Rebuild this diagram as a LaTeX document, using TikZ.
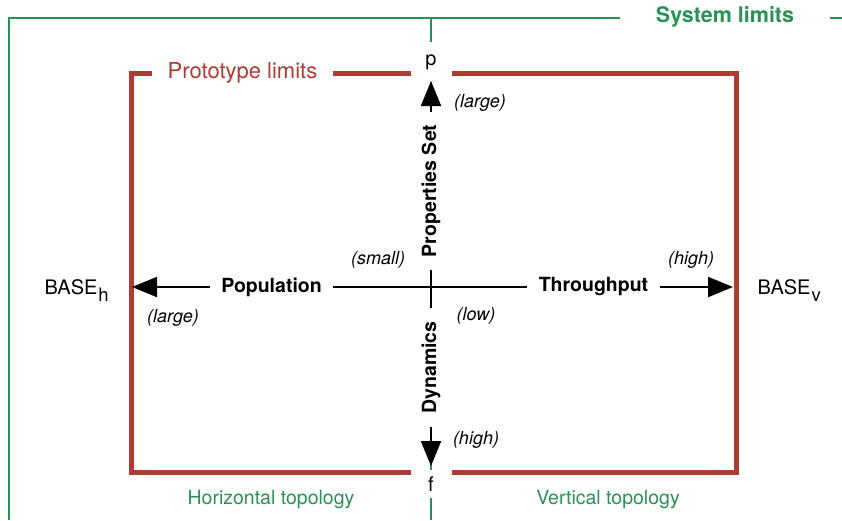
\documentclass[tikz,border=0pt]{standalone}
\usepackage{fontspec}
\setmainfont{TeX Gyre Heros}
\usetikzlibrary{arrows.meta}
\definecolor{syscol}{RGB}{42,145,84}
\definecolor{protocol}{RGB}{176,58,52}

\begin{document}
\begin{tikzpicture}[
            x=1pt,
            y=-1pt,
            syslim/.style={draw=syscol,line width=2pt},
            protolim/.style={draw=protocol,line width=5pt},
            axis/.style={draw=black,line width=2pt},
            tip/.style={-{Triangle[length=25pt,width=20pt]}},
            cover/.style={fill=white,inner sep=0pt},
            axlab/.style={cover,font=\fontsize{19.5}{22}\selectfont\bfseries,minimum height=24pt},
            note/.style={font=\fontsize{18}{21}\selectfont\itshape},
            topo/.style={text=syscol,font=\fontsize{19.5}{22}\selectfont},
            pole/.style={cover,font=\fontsize{20}{24}\selectfont,minimum width=41pt},
            base/.style={anchor=base west,font=\fontsize{20}{24}\selectfont}
        ]
            \useasboundingbox (0,0) rectangle (842,520);

            % limits
            \draw[syslim] (9,520) |- (842,18);
            \draw[syslim] (431,18) -- (431,520);
            \draw[protolim] (131,73) rectangle (736,472);

            \node[cover,text=syscol,font=\fontsize{21.5}{24}\selectfont\bfseries,
                  minimum width=210pt,minimum height=14pt] (syslab) at (725,17) {System limits};
            \node[cover,text=protocol,font=\fontsize{22}{24}\selectfont,
                  minimum width=181pt,minimum height=24pt] (protolab) at (242.5,73) {Prototype limits};

            \node[pole,minimum height=40pt] (p) at (431,62) {p};
            \node[pole,minimum height=28pt] (f) at (431,484) {f};

            % axes
            \coordinate (westtip) at (132,287);
            \coordinate (easttip) at (733,287);
            \coordinate (northtip) at (431,81);
            \coordinate (southtip) at (431,466);

            \node[axlab,minimum width=123pt] (pop) at (271.5,287) {Population};
            \node[axlab,minimum width=133pt] (thr) at (593.5,287) {Throughput};
            \node[axlab,rotate=90,minimum width=158pt] (props) at (431,191) {Properties Set};
            \node[axlab,rotate=90,minimum width=119pt] (dyn) at (431,367.5) {Dynamics};

            \draw[axis,tip] (pop) -- (westtip);
            \draw[axis] (pop) -- (thr);
            \draw[axis,tip] (thr) -- (easttip);
            \draw[axis,tip] (props) -- (northtip);
            \draw[axis] (props) -- (dyn);
            \draw[axis,tip] (dyn) -- (southtip);

            \node[note] (pmax) at (480,103) {(large)};
            \node[note] (popmin) at (378,260) {(small)};
            \node[note] (thrmax) at (691,260) {(high)};
            \node[note] (popmax) at (173,318) {(large)};
            \node[note] (dynmin) at (476,316) {(low)};
            \node[note] (fmax) at (476,440) {(high)};

            \node[base] (baseh) at (41,294) {BASE\kern1pt\raisebox{-7pt}{\fontsize{18.5}{18}\selectfont h}};
            \node[base] (basev) at (754,294) {BASE\kern1pt\raisebox{-7pt}{\fontsize{18.5}{18}\selectfont v}};

            \node[topo] (htopo) at (271,500) {Horizontal topology};
            \node[topo] (vtopo) at (608,500) {Vertical topology};
        \end{tikzpicture}
\end{document}
